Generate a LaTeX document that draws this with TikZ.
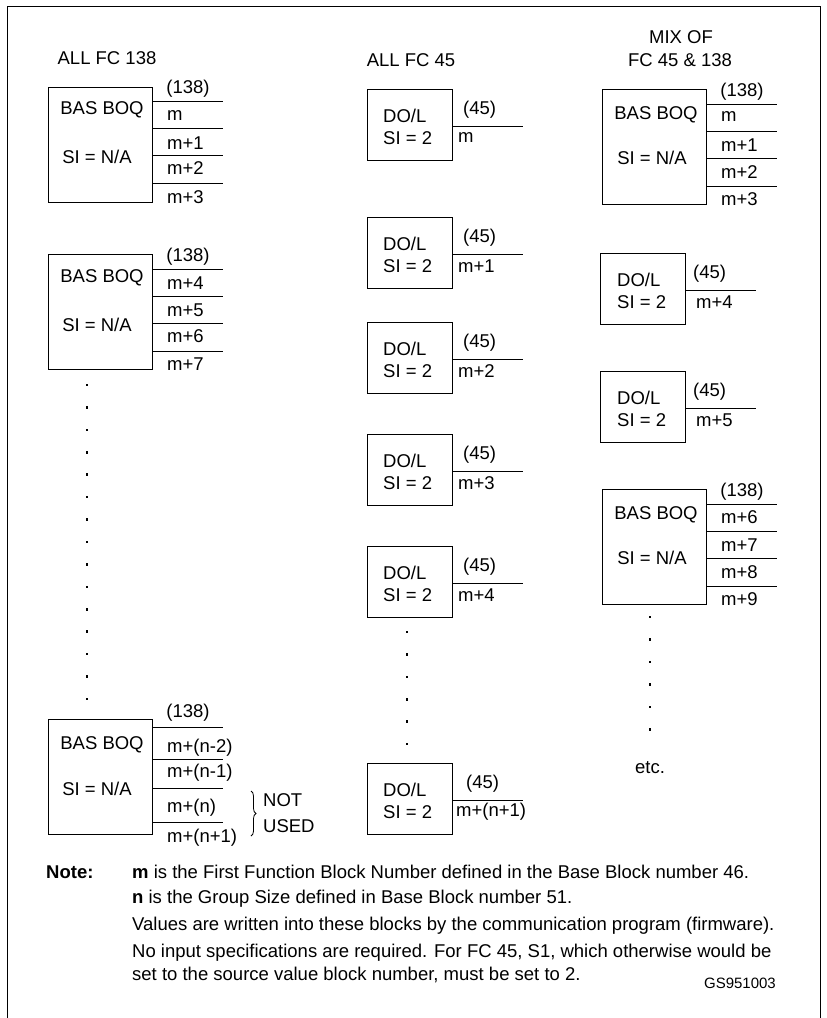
\documentclass[tikz,border=0pt]{standalone}
\usepackage{fontspec}
\setmainfont{Liberation Sans}
\usetikzlibrary{positioning,decorations.pathreplacing}

\begin{document}
\begin{tikzpicture}[x=1pt,y=-1pt,
   every node/.style={font=\fontsize{18.5}{20}\selectfont,inner sep=0pt},
   bigblk/.style={draw,line width=0.8pt,anchor=north west,minimum width=104pt,minimum height=115pt},
   doblk/.style={draw,line width=0.8pt,anchor=north west,minimum width=85pt,minimum height=71pt},
   ln/.style={line width=0.8pt},
   lbl/.style={anchor=west},
   dot/.style={fill,inner sep=0pt,minimum size=2.6pt},
   note/.style={anchor=west,font=\fontsize{18.5}{20}\selectfont}
]
\useasboundingbox (0,0) rectangle (827,1018);
\draw[ln] (7,1018) -- (7,6) -- (820,6) -- (820,1018);

% column titles
\node (T1) at (107,58) {ALL FC 138};
\node (T2) at (411,60) {ALL FC 45};
\node (T3a) at (681,37) {MIX OF};
\node (T3b) at (680,60) {FC 45 \& 138};

% all FC 138, first block
\node[bigblk] (A1) at (48,87) {};
\node (A1n) at (102,110) {BAS BOQ};
\node (A1s) at (97,157) {SI = N/A};
\draw[ln] ([yshift=-14pt]A1.north east) -- ++(70,0);
\draw[ln] ([yshift=-41pt]A1.north east) -- ++(70,0);
\draw[ln] ([yshift=-68pt]A1.north east) -- ++(70,0);
\draw[ln] ([yshift=-96pt]A1.north east) -- ++(70,0);
\node (A1f) at (188,89) {(138)};
\node[lbl] (A1a) at (167,116) {m};
\node[lbl] (A1b) at (167,143) {m+1};
\node[lbl] (A1c) at (167,168) {m+2};
\node[lbl] (A1d) at (167,197) {m+3};

% all FC 138, second block
\node[bigblk] (A2) at (48,254) {};
\node (A2n) at (102,278) {BAS BOQ};
\node (A2s) at (97,325) {SI = N/A};
\draw[ln] ([yshift=-15pt]A2.north east) -- ++(70,0);
\draw[ln] ([yshift=-42pt]A2.north east) -- ++(70,0);
\draw[ln] ([yshift=-69pt]A2.north east) -- ++(70,0);
\draw[ln] ([yshift=-97pt]A2.north east) -- ++(70,0);
\node (A2f) at (188,257) {(138)};
\node[lbl] (A2a) at (167,283) {m+4};
\node[lbl] (A2b) at (167,310) {m+5};
\node[lbl] (A2c) at (167,336) {m+6};
\node[lbl] (A2d) at (167,364) {m+7};

\foreach \i in {0,...,14}
   \node[dot] (Ad\i) at (87,385+22.43*\i) {};

% all FC 138, last block
\node[bigblk] (A3) at (48,719) {};
\node (A3n) at (102,745) {BAS BOQ};
\node (A3s) at (97,789) {SI = N/A};
\draw[ln] ([yshift=-8pt]A3.north east) -- ++(70,0);
\draw[ln] ([yshift=-40pt]A3.north east) -- ++(70,0);
\draw[ln] ([yshift=-69pt]A3.north east) -- ++(70,0);
\draw[ln] ([yshift=-103pt]A3.north east) -- ++(70,0);
\node (A3f) at (188,713) {(138)};
\node[lbl] (A3a) at (167,748) {m+(n-2)};
\node[lbl] (A3b) at (167,773) {m+(n-1)};
\node[lbl] (A3c) at (167,808) {m+(n)};
\node[lbl] (A3d) at (167,838) {m+(n+1)};
\coordinate (Bt) at (251,791);
\coordinate (Bb) at (251,836);
\draw[line width=0.8pt,decorate,decoration={brace,amplitude=5pt}] (Bt) -- (Bb);
\node[lbl] (NU1) at (263,800) {NOT};
\node[lbl] (NU2) at (263,826) {USED};

% all FC 45
\node[doblk] (D1) at (367,89) {};
\node[lbl] (D1n) at (383,116) {DO/L};
\node[lbl] (D1s) at (383,138) {SI = 2};
\draw[ln] ([yshift=-37pt]D1.north east) -- ++(70,0);
\node[lbl] (D1f) at (463,110) {(45)};
\node[lbl] (D1a) at (458,138) {m};

\node[doblk] (D2) at (367,217) {};
\node[lbl] (D2n) at (383,244) {DO/L};
\node[lbl] (D2s) at (383,266) {SI = 2};
\draw[ln] ([yshift=-37pt]D2.north east) -- ++(70,0);
\node[lbl] (D2f) at (463,238) {(45)};
\node[lbl] (D2a) at (458,266) {m+1};

\node[doblk] (D3) at (367,322) {};
\node[lbl] (D3n) at (383,349) {DO/L};
\node[lbl] (D3s) at (383,371) {SI = 2};
\draw[ln] ([yshift=-37pt]D3.north east) -- ++(70,0);
\node[lbl] (D3f) at (463,343) {(45)};
\node[lbl] (D3a) at (458,371) {m+2};

\node[doblk] (D4) at (367,434) {};
\node[lbl] (D4n) at (383,461) {DO/L};
\node[lbl] (D4s) at (383,483) {SI = 2};
\draw[ln] ([yshift=-37pt]D4.north east) -- ++(70,0);
\node[lbl] (D4f) at (463,455) {(45)};
\node[lbl] (D4a) at (458,483) {m+3};

\node[doblk] (D5) at (367,546) {};
\node[lbl] (D5n) at (383,573) {DO/L};
\node[lbl] (D5s) at (383,595) {SI = 2};
\draw[ln] ([yshift=-37pt]D5.north east) -- ++(70,0);
\node[lbl] (D5f) at (463,567) {(45)};
\node[lbl] (D5a) at (458,595) {m+4};

\foreach \i in {0,...,5}
   \node[dot] (Dd\i) at (407,632+22.4*\i) {};

\node[doblk] (D6) at (367,763) {};
\node[lbl] (D6n) at (383,790) {DO/L};
\node[lbl] (D6s) at (383,812) {SI = 2};
\draw[ln] ([yshift=-37pt]D6.north east) -- ++(70,0);
\node[lbl] (D6f) at (466,784) {(45)};
\node[lbl] (D6a) at (456,812) {m+(n+1)};

% mix of FC 45 & 138
\node[bigblk] (C1) at (602,89) {};
\node (C1n) at (656,115) {BAS BOQ};
\node (C1s) at (652,158) {SI = N/A};
\draw[ln] ([yshift=-15pt]C1.north east) -- ++(70,0);
\draw[ln] ([yshift=-42pt]C1.north east) -- ++(70,0);
\draw[ln] ([yshift=-69pt]C1.north east) -- ++(70,0);
\draw[ln] ([yshift=-97pt]C1.north east) -- ++(70,0);
\node (C1f) at (742,92) {(138)};
\node[lbl] (C1a) at (721,117) {m};
\node[lbl] (C1b) at (721,145) {m+1};
\node[lbl] (C1c) at (721,172) {m+2};
\node[lbl] (C1d) at (721,199) {m+3};

\node[doblk] (C2) at (600,253) {};
\node[lbl] (C2n) at (617,280) {DO/L};
\node[lbl] (C2s) at (617,302) {SI = 2};
\draw[ln] ([yshift=-37pt]C2.north east) -- ++(70,0);
\node[lbl] (C2f) at (693,274) {(45)};
\node[lbl] (C2a) at (696,302) {m+4};

\node[doblk] (C3) at (600,371) {};
\node[lbl] (C3n) at (617,398) {DO/L};
\node[lbl] (C3s) at (617,420) {SI = 2};
\draw[ln] ([yshift=-37pt]C3.north east) -- ++(70,0);
\node[lbl] (C3f) at (693,392) {(45)};
\node[lbl] (C3a) at (696,420) {m+5};

\node[bigblk] (C4) at (602,489) {};
\node (C4n) at (656,515) {BAS BOQ};
\node (C4s) at (652,558) {SI = N/A};
\draw[ln] ([yshift=-15pt]C4.north east) -- ++(70,0);
\draw[ln] ([yshift=-42pt]C4.north east) -- ++(70,0);
\draw[ln] ([yshift=-69pt]C4.north east) -- ++(70,0);
\draw[ln] ([yshift=-97pt]C4.north east) -- ++(70,0);
\node (C4f) at (742,492) {(138)};
\node[lbl] (C4a) at (721,517) {m+6};
\node[lbl] (C4b) at (721,545) {m+7};
\node[lbl] (C4c) at (721,572) {m+8};
\node[lbl] (C4d) at (721,599) {m+9};

\foreach \i in {0,...,5}
   \node[dot] (Cd\i) at (650,617+22.5*\i) {};
\node (etc) at (650,768) {etc.};

% notes
\node[note] (N0) at (46,872) {\bfseries Note:};
\node[note] (N1) at (132,872) {\textbf{m} is the First Function Block Number defined in the Base Block number 46.};
\node[note] (N2) at (132,899) {\textbf{n} is the Group Size defined in Base Block number 51.};
\node[note] (N3) at (132,926) {Values are written into these blocks by the communication program (firmware).};
\node[note] (N4) at (132,953) {No input specifications are required. For FC 45, S1, which otherwise would be};
\node[note] (N5) at (132,975) {set to the source value block number, must be set to 2.};
\node[anchor=east,font=\fontsize{15}{16}\selectfont] (GS) at (776,983) {GS951003};
\end{tikzpicture}
\end{document}
